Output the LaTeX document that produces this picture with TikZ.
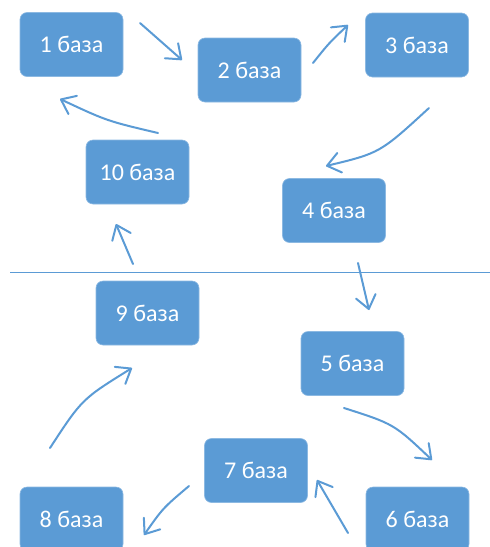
\documentclass[tikz,border=0pt]{standalone}
\usepackage{fontspec}
\setmainfont{Carlito}
\usetikzlibrary{arrows.meta}
\definecolor{boxblue}{HTML}{5B9BD5}
\begin{document}
\begin{tikzpicture}[x=1pt,y=-1pt,
  basebox/.style={fill=boxblue,draw=boxblue!70!white,line width=0.6pt,rounded corners=7pt,
    minimum width=103pt,minimum height=64pt,inner sep=0pt,text=white,
    font=\fontsize{24}{27}\selectfont},
  flow/.style={draw=boxblue,line width=2pt,line cap=round,
    -{Straight Barb[length=13pt,width=20pt,line width=2pt,round]}},
  sepline/.style={draw=boxblue,line width=1pt}]
\useasboundingbox (0,0) rectangle (490,547);
\clip (0,0) rectangle (490,547);
% boxes
\node[basebox] (b1) at (71.5,44.5) {1 база};
\node[basebox] (b2) at (249.5,70) {2 база};
\node[basebox] (b3) at (417,45) {3 база};
\node[basebox] (b4) at (334,210.5) {4 база};
\node[basebox] (b10) at (137.5,172) {10 база};
\node[basebox] (b9) at (147.5,313) {9 база};
\node[basebox] (b5) at (352.5,363.5) {5 база};
\node[basebox] (b7) at (256,470.5) {7 база};
\node[basebox] (b8) at (71.5,519) {8 база};
\node[basebox] (b6) at (417.5,519) {6 база};
% separator
\coordinate (sepL) at (10,272);
\coordinate (sepR) at (490,272);
\draw[sepline] (sepL) -- (sepR);
% arrow end points
\coordinate (a12s) at (140,23);  \coordinate (a12e) at (182,60);
\coordinate (a23s) at (313,63);  \coordinate (a23e) at (348,25);
\coordinate (a34s) at (429,108); \coordinate (a34e) at (326,166);
\coordinate (a45s) at (358,263); \coordinate (a45e) at (369,310);
\coordinate (a56s) at (344,408); \coordinate (a56e) at (432,460);
\coordinate (a67s) at (348,533); \coordinate (a67e) at (317,480);
\coordinate (a78s) at (189,486); \coordinate (a78e) at (144,535);
\coordinate (a89s) at (50,448);  \coordinate (a89e) at (132,368);
\coordinate (a910s) at (133,264); \coordinate (a910e) at (116,224);
\coordinate (a101s) at (158,133); \coordinate (a101e) at (60,99);
% arrows
\draw[flow] (a12s) -- (a12e);
\draw[flow] (a23s) .. controls (329,43) .. (a23e);
\draw[flow] (a34s) .. controls (380,153) .. (a34e);
\draw[flow] (a45s) -- (a45e);
\draw[flow] (a56s) .. controls (394,424) .. (a56e);
\draw[flow] (a67s) -- (a67e);
\draw[flow] (a78s) .. controls (163,508) .. (a78e);
\draw[flow] (a89s) .. controls (82,399) .. (a89e);
\draw[flow] (a910s) -- (a910e);
\draw[flow] (a101s) .. controls (107,121) .. (a101e);
\end{tikzpicture}
\end{document}
